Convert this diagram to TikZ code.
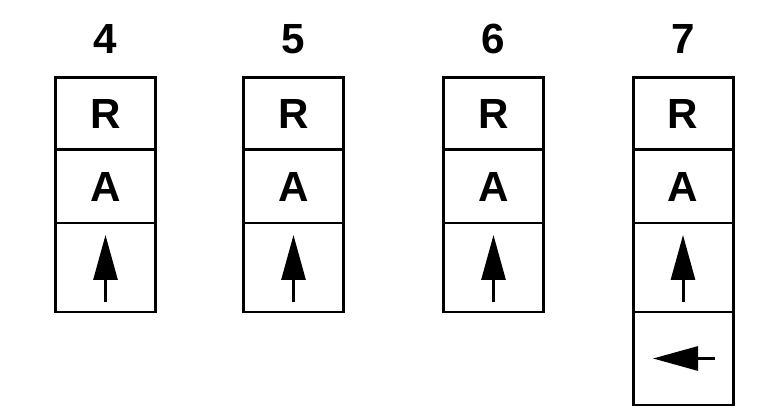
\documentclass[tikz,border=0pt]{standalone}
\usepackage{fontspec}
\setmainfont{Liberation Sans}
\usetikzlibrary{arrows.meta,positioning}

\begin{document}
\begin{tikzpicture}[
  node distance=0pt,
  cell/.style={rectangle, draw, line width=1.7pt, outer sep=0pt, minimum width=2cm, font=\fontsize{24}{28}\selectfont\bfseries},
  rcell/.style={cell, minimum height=1.44cm},
  acell/.style={cell, minimum height=1.46cm},
  dircell/.style={cell, minimum height=1.78cm},
  lastcell/.style={cell, minimum height=1.86cm},
  colnum/.style={anchor=base, font=\fontsize{24}{28}\selectfont\bfseries},
  dirarrow/.style={-{Triangle[length=0.9cm, width=0.48cm]}, line width=1.7pt}
]
\useasboundingbox (0,0) rectangle (15.24,8.32);

% column 4
\node[colnum] (n4) at (2.11,7.25) {4};
\node[rcell, anchor=north] (r4) at (2.11,6.76) {R};
\node[acell, below=of r4] (a4) {A};
\node[dircell, below=of a4] (d4) {};

% column 5
\node[colnum] (n5) at (5.87,7.25) {5};
\node[rcell, anchor=north] (r5) at (5.87,6.76) {R};
\node[acell, below=of r5] (a5) {A};
\node[dircell, below=of a5] (d5) {};

% column 6
\node[colnum] (n6) at (9.87,7.25) {6};
\node[rcell, anchor=north] (r6) at (9.87,6.76) {R};
\node[acell, below=of r6] (a6) {A};
\node[dircell, below=of a6] (d6) {};

% column 7
\node[colnum] (n7) at (13.66,7.25) {7};
\node[rcell, anchor=north] (r7) at (13.66,6.76) {R};
\node[acell, below=of r7] (a7) {A};
\node[dircell, below=of a7] (d7) {};
\node[lastcell, below=of d7] (e7) {};

% arrows in the cells
\draw[dirarrow] ([yshift=-0.69cm]d4.center) -- ([yshift=0.65cm]d4.center);
\draw[dirarrow] ([yshift=-0.69cm]d5.center) -- ([yshift=0.65cm]d5.center);
\draw[dirarrow] ([yshift=-0.69cm]d6.center) -- ([yshift=0.65cm]d6.center);
\draw[dirarrow] ([yshift=-0.69cm]d7.center) -- ([yshift=0.65cm]d7.center);
\draw[dirarrow] ([xshift=0.64cm]e7.center) -- ([xshift=-0.6cm]e7.center);
\end{tikzpicture}
\end{document}
